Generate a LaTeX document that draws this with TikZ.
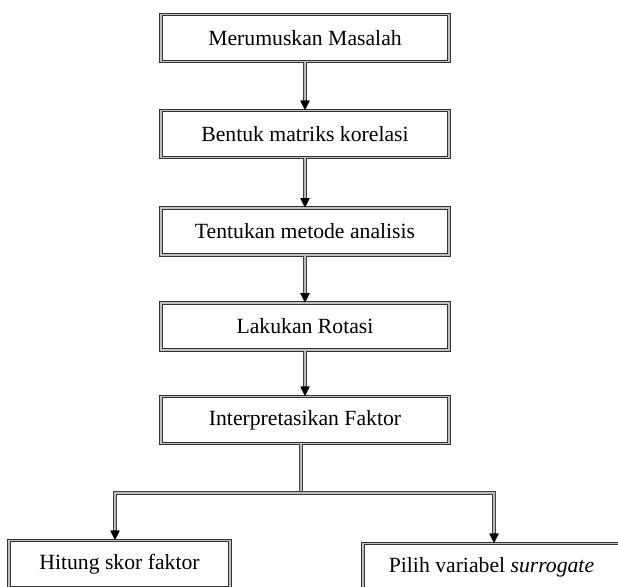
\documentclass[tikz,border=0pt]{standalone}
\usepackage{fontspec}
\setmainfont{Liberation Serif}
\usetikzlibrary{arrows.meta}
\begin{document}
\begin{tikzpicture}[x=1pt,y=-1pt,
  fbox/.style={draw=black!80, double=gray!50, double distance=1.3pt, line width=1pt,
    minimum width=288pt, minimum height=47pt, inner sep=0pt,
    font=\fontsize{21.7}{26}\selectfont},
  shaft/.style={draw=black!75, double=gray!55, double distance=1.5pt, line width=0.9pt},
  tip/.style={draw=black, line width=0.4pt, -{Triangle[width=9.5pt,length=9.5pt]}}
]
\useasboundingbox (0,0) rectangle (618,586);
\clip (0,0) rectangle (618,586);

\node[fbox] (b1) at (305,38) {Merumuskan Masalah};
\node[fbox] (b2) at (305,134) {Bentuk matriks korelasi};
\node[fbox] (b3) at (305,231.5) {Tentukan metode analisis};
\node[fbox] (b4) at (305,326.5) {Lakukan Rotasi};
\node[fbox] (b5) at (305,420) {Interpretasikan Faktor};
\node[fbox, minimum width=221pt, anchor=north] (b6) at (119.5,540) {Hitung skor faktor};
\node[fbox, minimum width=257pt, anchor=north] (b7) at (491.5,543) {Pilih variabel \textit{surrogate}};

\foreach \a/\b in {b1/b2,b2/b3,b3/b4,b4/b5}{
  \draw[shaft] (\a.south) -- ([yshift=8pt]\b.north);
  \draw[tip] ([yshift=10pt]\b.north) -- (\b.north);
}

\coordinate (j) at (301,493);
\coordinate (jl) at (115,493);
\coordinate (jr) at (494,493);

\draw[shaft] (b5.south -| j) -- (j);
\draw[shaft] ([yshift=8pt]b6.north -| jl) |- (jr) -- ([yshift=8pt]b7.north -| jr);
\draw[tip] ([yshift=10pt]b6.north -| jl) -- (b6.north -| jl);
\draw[tip] ([yshift=10pt]b7.north -| jr) -- (b7.north -| jr);
\end{tikzpicture}
\end{document}
